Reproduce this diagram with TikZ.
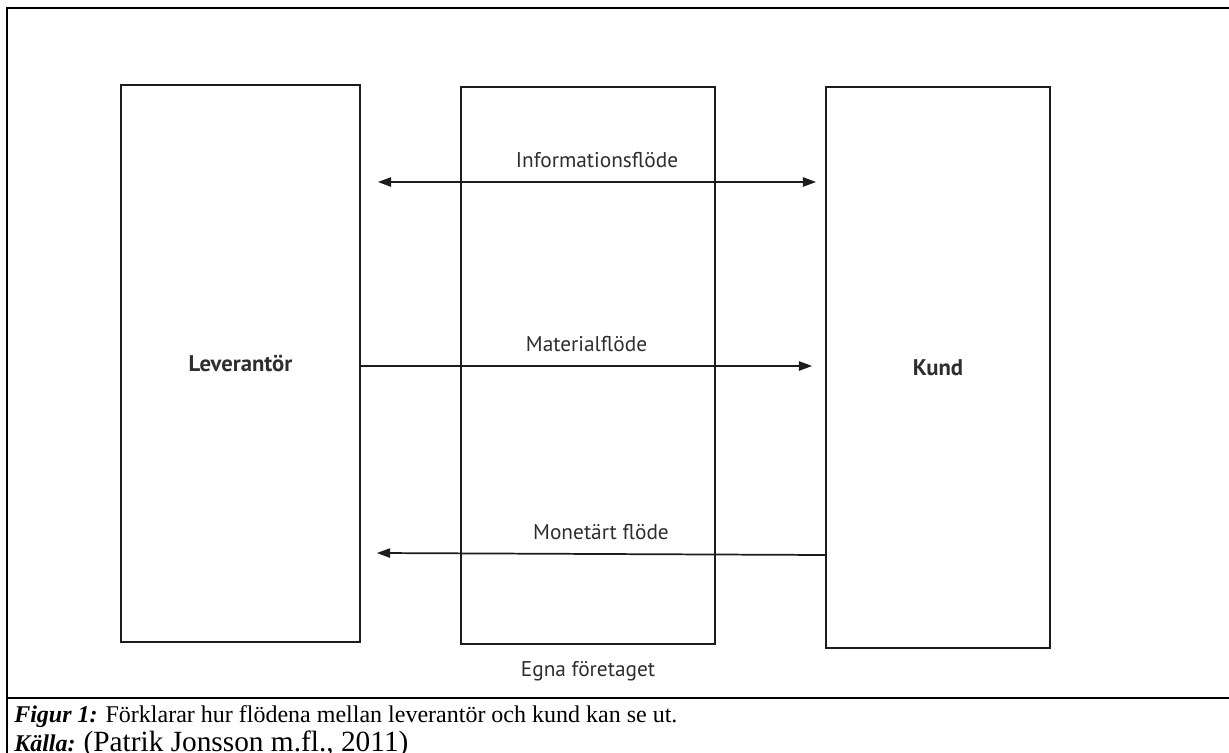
\documentclass[tikz,border=0pt]{standalone}
\usepackage{fontspec}
\setmainfont{Liberation Serif}
\newfontfamily\scanfont{PT Sans}
\usetikzlibrary{arrows.meta,positioning,calc}
\definecolor{ScanInk}{HTML}{1C1C1C}
\definecolor{ScanText}{HTML}{2E2E2E}
\tikzset{
  partybox/.style={draw=ScanInk, line width=1.3pt, inner sep=0pt,
    text=ScanText, font=\scanfont\bfseries\fontsize{17pt}{20pt}\selectfont},
  flowtip/.tip={Triangle[length=10pt,width=7pt]},
  flow/.style={ScanInk, line width=1.3pt, -flowtip},
  flowlabel/.style={text=ScanText, font=\scanfont\fontsize{16pt}{19pt}\selectfont},
  frameline/.style={line width=2pt},
}
\begin{document}
\begin{tikzpicture}[x=0.75pt,y=-0.75pt]
  \useasboundingbox (0,0) rectangle (1229,753);
  % the three parties
  \node[partybox, minimum width=179.25pt, minimum height=417.75pt] (lev) at (240.5,363.5) {Leverantör};
  \node[partybox, minimum width=190.5pt, minimum height=417.75pt] (own) at (588,365.5) {};
  \node[partybox, minimum width=168pt, minimum height=420.75pt] (kund) at (938,367.5) {Kund};
  \node[flowlabel, below=9pt of own] (ownlabel) {Egna företaget};
  % flows between them
  \coordinate (infoL) at ($(lev.east |- 0,182)+(17,0)$);
  \coordinate (infoR) at ($(kund.west |- 0,182)+(-9,0)$);
  \coordinate (matR) at ($(kund.west |- 0,366)+(-13,0)$);
  \coordinate (monL) at ($(lev.east |- 0,553)+(16,0)$);
  \draw[flow, flowtip-flowtip] (infoL) -- node[flowlabel, above=7pt] {Informationsflöde} (infoR);
  \draw[flow] (lev.east |- 0,366) -- node[flowlabel, above=7pt] {Materialflöde} (matR);
  \draw[flow] (kund.west |- 0,555) -- node[flowlabel, above=7pt] {Monetärt flöde} (monL);
  % table frame and caption
  \draw[frameline] (7,753) -- (7,8) -- (1229,8);
  \draw[frameline] (7,698) -- (1229,698);
  \node[anchor=base west, inner sep=0pt, font=\fontsize{18pt}{21pt}\selectfont] (cap) at (14,722)
    {\textbf{\textit{Figur 1:}} Förklarar hur flödena mellan leverantör och kund kan se ut.};
  \node[anchor=base west, inner sep=0pt, font=\fontsize{18pt}{21pt}\selectfont] (src) at (14,751)
    {\textbf{\textit{Källa:}} {\fontsize{22pt}{25pt}\selectfont(Patrik Jonsson m.fl., 2011)}};
\end{tikzpicture}
\end{document}
